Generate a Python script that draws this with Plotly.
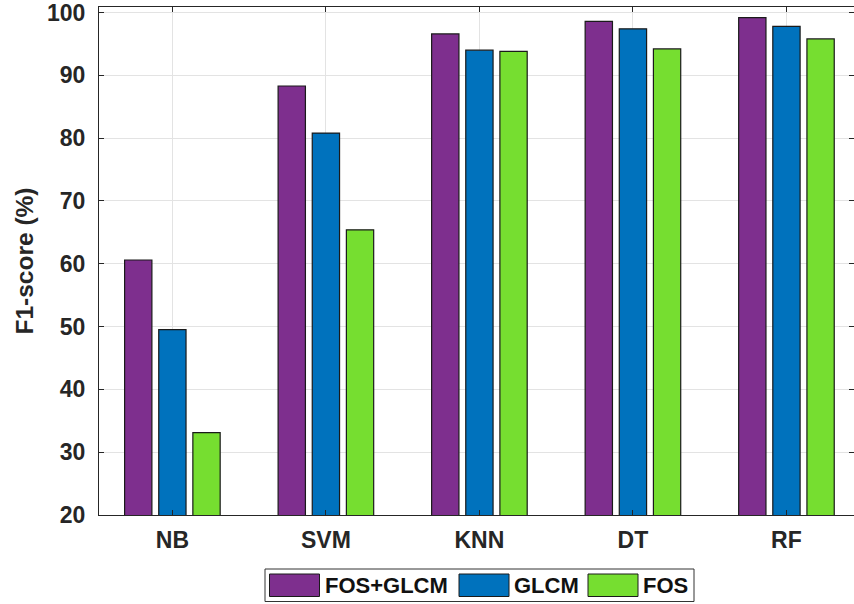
import plotly.graph_objects as go

# Classifier results (F1-score, %)
classifiers = ["NB", "SVM", "KNN", "DT", "RF"]
fos_glcm = [60.6, 88.3, 96.6, 98.6, 99.2]
glcm = [49.5, 80.8, 94.0, 97.4, 97.8]
fos = [33.1, 65.4, 93.8, 94.2, 95.8]

series_names = ["FOS+GLCM", "GLCM", "FOS"]
series_colors = ["#7E2F8E", "#0072BD", "#76DE30"]
y_ticks = [20, 30, 40, 50, 60, 70, 80, 90, 100]

W, H = 854, 604
ML, MR, MT, MB = 99, 0, 7, 89
AXIS_COLOR = "#262626"
FONT = "Liberation Sans, Arial, sans-serif"

fig = go.Figure()
for name, vals, col in zip(series_names, [fos_glcm, glcm, fos], series_colors):
    fig.add_trace(go.Bar(
        x=classifiers, y=vals, name=name,
        marker=dict(color=col, line=dict(color="#1a1a1a", width=1.2)),
        showlegend=False,
    ))

fig.update_layout(
    width=W, height=H,
    margin=dict(l=ML, r=MR, t=MT, b=MB, pad=0),
    paper_bgcolor="white", plot_bgcolor="white",
    barmode="group", bargap=0.333, bargroupgap=0.2,
    font=dict(family=FONT, color=AXIS_COLOR),
)

fig.update_xaxes(
    type="category", range=[-0.478, 4.44],
    showline=True, linecolor=AXIS_COLOR, linewidth=1, mirror="ticks",
    ticks="inside", ticklen=5, tickcolor=AXIS_COLOR, tickwidth=1,
    showgrid=True, gridcolor="#e3e3e3", gridwidth=1,
    tickfont=dict(size=23, family=FONT, color=AXIS_COLOR, weight="bold"),
    ticklabelstandoff=4,
)
fig.update_yaxes(
    range=[20, 100.88], tickvals=y_ticks,
    showline=True, linecolor=AXIS_COLOR, linewidth=1, mirror="ticks",
    ticks="inside", ticklen=5, tickcolor=AXIS_COLOR, tickwidth=1,
    showgrid=True, gridcolor="#e3e3e3", gridwidth=1, zeroline=False,
    tickfont=dict(size=23, family=FONT, color=AXIS_COLOR, weight="bold"),
    ticklabelstandoff=8, ticklabeloverflow="allow",
    title=dict(text="F1-score (%)", standoff=6,
               font=dict(size=24.5, family=FONT, color=AXIS_COLOR, weight="bold")),
)

# Legend box drawn below the axes, in pixel positions converted to paper units
pw, ph = W - ML - MR, H - MT - MB


def px(xp):
    return (xp - ML) / pw


def py(yp):
    return (H - MB - yp) / ph


fig.add_shape(type="rect", xref="paper", yref="paper",
              x0=px(265), x1=px(694), y0=py(569), y1=py(601.5),
              line=dict(color="#333333", width=1), fillcolor="white")
swatch_x = [269.5, 459, 588]
text_x = [323, 512, 641]
for name, col, sx, tx in zip(series_names, series_colors, swatch_x, text_x):
    fig.add_shape(type="rect", xref="paper", yref="paper",
                  x0=px(sx), x1=px(sx + 50), y0=py(574), y1=py(596.5),
                  line=dict(color="#1a1a1a", width=1), fillcolor=col)
    fig.add_annotation(xref="paper", yref="paper", x=px(tx), y=py(585.5),
                       text=name, showarrow=False, xanchor="left", yanchor="middle",
                       font=dict(size=22, family=FONT, color="#111111", weight="bold"))

fig.write_html("out.html")
